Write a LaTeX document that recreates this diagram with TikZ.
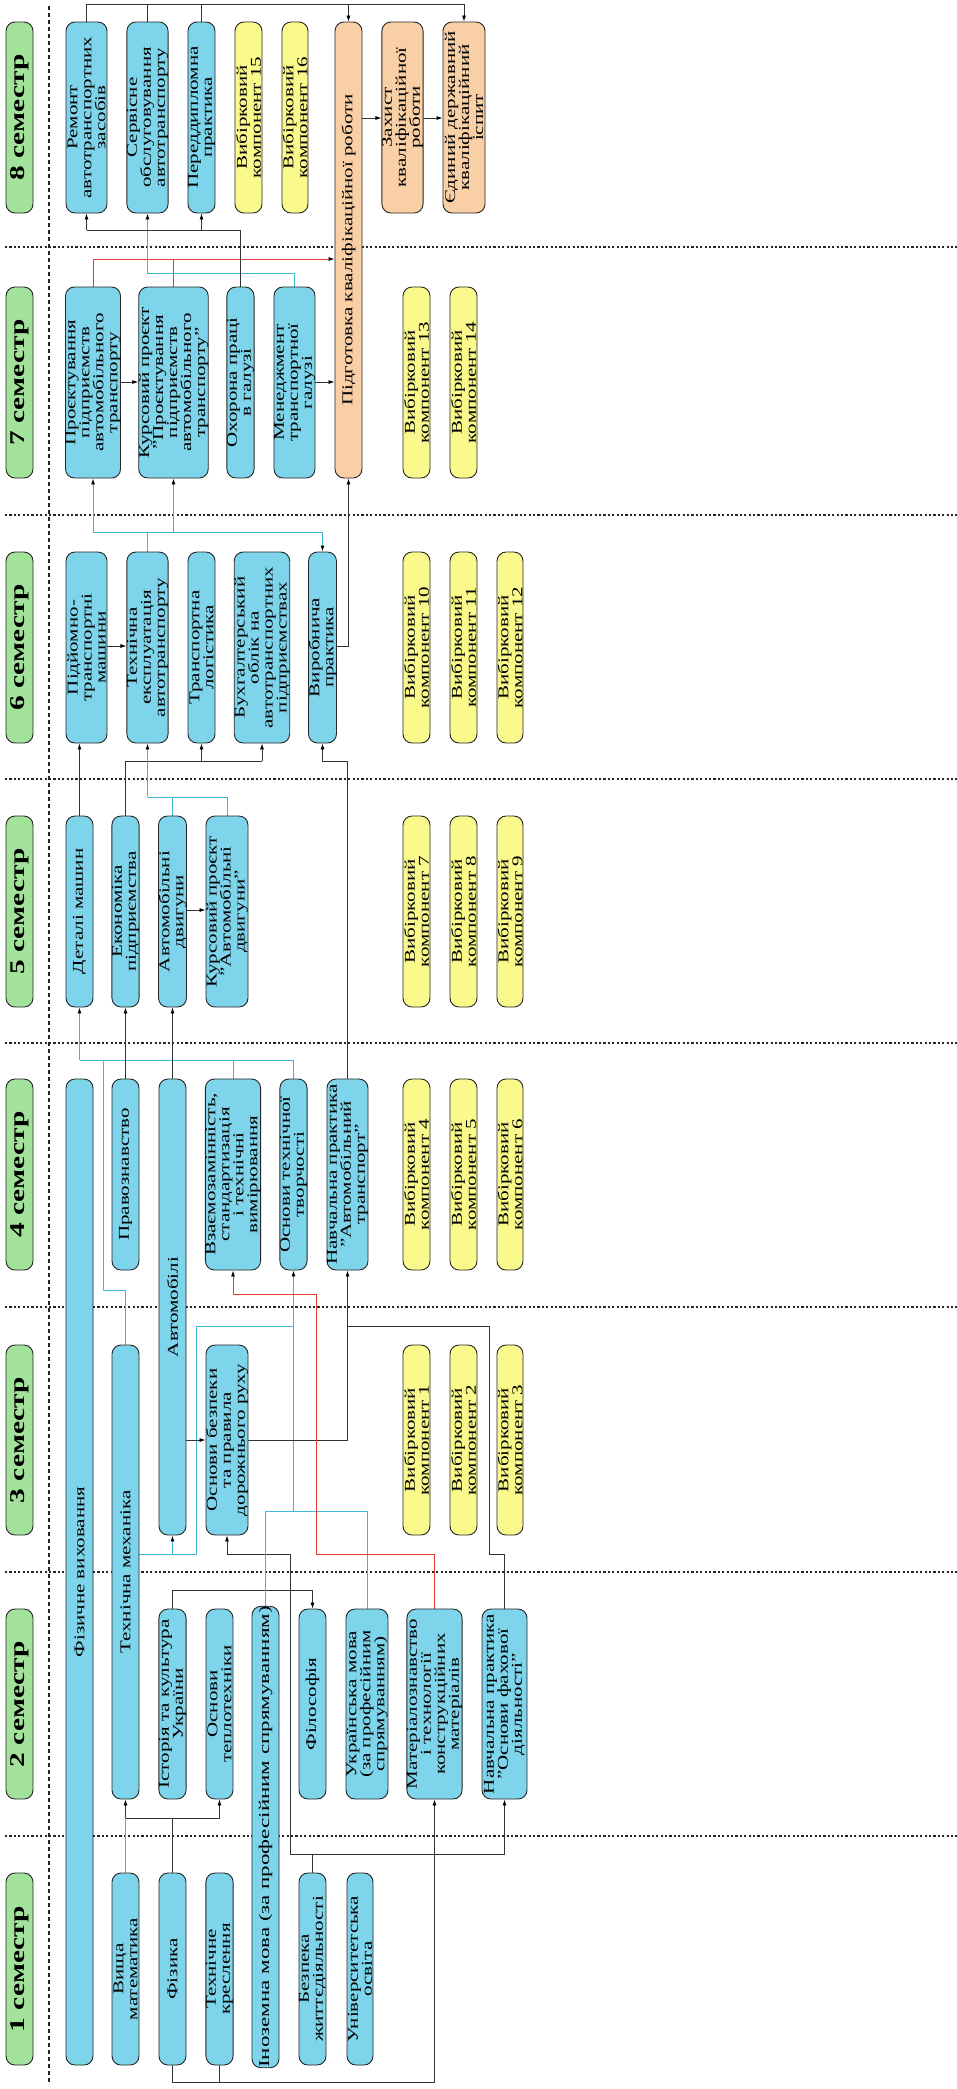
\documentclass[tikz,border=0pt]{standalone}
\usepackage{fontspec}
\setmainfont{Liberation Serif}[FakeStretch=1.4]
\newfontfamily\widefont{Liberation Serif}[FakeStretch=1.53]
\usetikzlibrary{arrows.meta}
\pgfdeclarelayer{back}
\pgfdeclarelayer{bg}
\pgfsetlayers{back,bg,main}
\definecolor{cblue}{HTML}{7ED4EB}
\definecolor{cyel}{HTML}{FAFA8C}
\definecolor{corg}{HTML}{F9CFA6}
\definecolor{cgrn}{HTML}{A3E29A}
\definecolor{ccyan}{HTML}{3DB8D4}
\definecolor{cred}{HTML}{E53935}
\tikzset{
 box/.style={rectangle, rounded corners=9pt, draw=black!85, line width=0.9pt, fill=cblue, rotate=90, inner sep=0pt, align=center, font=\fontsize{15}{14}\selectfont},
 ybox/.style={box, fill=cyel},
 obox/.style={box, fill=corg},
 gbox/.style={box, fill=cgrn, font=\fontsize{21}{24}\selectfont\bfseries},
 ln/.style={draw=black!80, line width=0.8pt},
 cy/.style={draw=ccyan, line width=0.9pt},
 rd/.style={draw=cred, line width=0.9pt},
 tip/.style={-{Latex[length=6pt,width=4pt,color=black]}},
 dotline/.style={line width=2.2pt, dash pattern=on 2.2pt off 2.2pt, black!85},
 dashline/.style={line width=1.6pt, dash pattern=on 4pt off 3pt, black!85},
}
\newcommand\bx[7]{\node[#6, minimum width={(#5)-(#4)}, minimum height={(#3)-(#2)}] (#1) at ({((#2)+(#3))/2},{((#4)+(#5))/2}) {#7};}
\begin{document}
\begin{tikzpicture}[x=1pt,y=-1pt]
\useasboundingbox (0,0) rectangle (957,2089);
\begin{pgfonlayer}{back}
\fill[white] (0,0) rectangle (957,2089);
\end{pgfonlayer}
% semester labels
\bx{s8}{6}{33}{22}{213}{gbox}{8 семестр}
\bx{s7}{6}{33}{287}{478}{gbox}{7 семестр}
\bx{s6}{6}{33}{552}{743}{gbox}{6 семестр}
\bx{s5}{6}{33}{816}{1007}{gbox}{5 семестр}
\bx{s4}{6}{33}{1079}{1270}{gbox}{4 семестр}
\bx{s3}{6}{33}{1345}{1535}{gbox}{3 семестр}
\bx{s2}{6}{33}{1609}{1799}{gbox}{2 семестр}
\bx{s1}{6}{33}{1873}{2065}{gbox}{1 семестр}
% semester 1
\bx{fv}{66}{93}{1079}{2065}{box}{Фізичне виховання}
\bx{vm}{112}{139}{1873}{2065}{box}{Вища\\математика}
\bx{fiz}{159}{186}{1873}{2065}{box}{Фізика}
\bx{tk}{206}{233}{1873}{2065}{box}{Технічне\\креслення}
\bx{im}{252}{279}{1609}{2065}{box}{\widefont Іноземна мова (за професійним спрямуванням)}
\bx{bzh}{299}{326}{1873}{2065}{box}{Безпека\\життєдіяльності}
\bx{uo}{347}{373}{1873}{2065}{box}{Університетська\\освіта}
% semester 2
\bx{tm}{112}{139}{1345}{1799}{box}{Технічна механіка}
\bx{ik}{159}{186}{1609}{1799}{box}{Історія та культура\\України}
\bx{ot}{206}{233}{1609}{1799}{box}{Основи\\теплотехніки}
\bx{fil}{299}{326}{1609}{1799}{box}{Філософія}
\bx{um}{346}{388}{1609}{1799}{box}{Українська мова\\(за професійним\\спрямуванням)}
\bx{mat}{407}{462}{1609}{1799}{box}{Матеріалознавство\\і технології\\конструкційних\\матеріалів}
\bx{npof}{482}{527}{1609}{1799}{box}{Навчальна практика\\"Основи фахової\\діяльності"}
% semester 3
\bx{avt}{159}{186}{1079}{1535}{box}{Автомобілі}
\bx{obr}{206}{248}{1345}{1535}{box}{Основи безпеки\\та правила\\дорожнього руху}
\bx{vk1}{403}{430}{1345}{1535}{ybox}{Вибірковий\\компонент 1}
\bx{vk2}{450}{477}{1345}{1535}{ybox}{Вибірковий\\компонент 2}
\bx{vk3}{497}{523}{1345}{1535}{ybox}{Вибірковий\\компонент 3}
% semester 4
\bx{prav}{112}{139}{1079}{1270}{box}{Правознавство}
\bx{vsv}{206}{260}{1079}{1270}{box}{Взаємозамінність,\\стандартизація\\і технічні\\вимірювання}
\bx{ott}{280}{307}{1079}{1270}{box}{Основи технічної\\творчості}
\bx{npat}{327}{368}{1079}{1270}{box}{Навчальна практика\\"Автомобільний\\транспорт"}
\bx{vk4}{403}{430}{1079}{1270}{ybox}{Вибірковий\\компонент 4}
\bx{vk5}{450}{477}{1079}{1270}{ybox}{Вибірковий\\компонент 5}
\bx{vk6}{497}{523}{1079}{1270}{ybox}{Вибірковий\\компонент 6}
% semester 5
\bx{dm}{66}{93}{816}{1007}{box}{Деталі машин}
\bx{ep}{112}{139}{816}{1007}{box}{Економіка\\підприємства}
\bx{ad}{159}{186}{816}{1007}{box}{Автомобільні\\двигуни}
\bx{kpad}{206}{248}{816}{1007}{box}{Курсовий проєкт\\"Автомобільні\\двигуни"}
\bx{vk7}{403}{430}{816}{1007}{ybox}{Вибірковий\\компонент 7}
\bx{vk8}{450}{477}{816}{1007}{ybox}{Вибірковий\\компонент 8}
\bx{vk9}{497}{523}{816}{1007}{ybox}{Вибірковий\\компонент 9}
% semester 6
\bx{ptm}{66}{107}{552}{743}{box}{Підйомно-\\транспортні\\машини}
\bx{tea}{127}{168}{552}{743}{box}{Технічна\\експлуатація\\автотранспорту}
\bx{tl}{188}{215}{552}{743}{box}{Транспортна\\логістика}
\bx{bo}{235}{289}{552}{743}{box}{Бухгалтерський\\облік на\\автотранспортних\\підприємствах}
\bx{vp}{309}{336}{552}{743}{box}{Виробнича\\практика}
\bx{vk10}{403}{430}{552}{743}{ybox}{Вибірковий\\компонент 10}
\bx{vk11}{450}{477}{552}{743}{ybox}{Вибірковий\\компонент 11}
\bx{vk12}{497}{523}{552}{743}{ybox}{Вибірковий\\компонент 12}
% semester 7
\bx{ppat}{66}{120}{287}{478}{box}{Проєктування\\підприємств\\автомобільного\\транспорту}
\bx{kpp}{140}{207}{287}{478}{box}{Курсовий проєкт\\"Проєктування\\підприємств\\автомобільного\\транспорту"}
\bx{op}{227}{254}{287}{478}{box}{Охорона праці\\в галузі}
\bx{mtg}{274}{315}{287}{478}{box}{Менеджмент\\транспортної\\галузі}
\bx{pkr}{335}{362}{22}{478}{obox}{Підготовка кваліфікаційної роботи}
\bx{vk13}{403}{430}{287}{478}{ybox}{Вибірковий\\компонент 13}
\bx{vk14}{450}{477}{287}{478}{ybox}{Вибірковий\\компонент 14}
% semester 8
\bx{ratz}{66}{107}{22}{213}{box}{Ремонт\\автотранспортних\\засобів}
\bx{soa}{127}{168}{22}{213}{box}{Сервісне\\обслуговування\\автотранспорту}
\bx{pp}{188}{215}{22}{213}{box}{Переддипломна\\практика}
\bx{vk15}{235}{262}{22}{213}{ybox}{Вибірковий\\компонент 15}
\bx{vk16}{282}{308}{22}{213}{ybox}{Вибірковий\\компонент 16}
\bx{zkr}{382}{423}{22}{213}{obox}{Захист\\кваліфікаційної\\роботи}
\bx{edki}{443}{485}{22}{213}{obox}{Єдиний державний\\кваліфікаційний\\іспит}
% bus levels
\coordinate (yA) at (0,1818);
\coordinate (yB) at (0,2082);
\coordinate (yC) at (0,1854);
\coordinate (yD) at (0,1554);
\coordinate (yE) at (0,1590);
\coordinate (yG) at (0,1326);
\coordinate (yH) at (0,1511);
\coordinate (yI) at (0,1440);
\coordinate (yL) at (0,1294);
\coordinate (yM) at (0,1060);
\coordinate (yN) at (0,1290);
\coordinate (yP) at (0,910);
\coordinate (yQ) at (0,761);
\coordinate (yR) at (0,797);
\coordinate (yS) at (0,646);
\coordinate (yT) at (0,532);
\coordinate (yU) at (0,382);
\coordinate (yV) at (0,259);
\coordinate (yW) at (0,273);
\coordinate (yX) at (0,230);
\coordinate (yY) at (0,4);
\coordinate (yZ) at (0,118);
\coordinate (xC) at (290,0);
\coordinate (xF) at (196,0);
\coordinate (xJ) at (489,0);
\coordinate (xK) at (316,0);
\coordinate (xO) at (103,0);
\begin{pgfonlayer}{bg}
\foreach \yy in {247,515,779,1043,1307,1572,1836} \draw[dotline] (5,\yy) -- (957,\yy);
\draw[dashline] (49,6) -- (49,2085);
% semester 1 -> 2
\draw[cy] (vm.east) -- (vm.east |- yA);
\draw[ln] (fiz.east) -- (fiz.east |- yA);
\draw[ln] (tm.west |- yA) -- (ot.west |- yA);
\draw[ln,tip] (tm.west |- yA) -- (tm.west);
\draw[ln,tip] (ot.west |- yA) -- (ot.west);
\draw[ln,tip] (fiz.west) -- (fiz.west |- yB) -- (mat.west |- yB) -- (mat.west);
\draw[ln] (tk.west) -- (tk.west |- yB);
\draw[ln] (bzh.east) -- (bzh.east |- yC);
\draw[ln] (xC |- yC) -- (npof.west |- yC);
\draw[ln,tip] (npof.west |- yC) -- (npof.west);
\draw[ln,tip] (xC |- yC) -- (xC |- yD) -- (obr.west |- yD) -- (obr.west);
\draw[ln,tip] (ik.east) -- (ik.east |- yE) -- (fil.east |- yE) -- (fil.east);
% semester 2/3 -> 3/4
\draw[cy] (tm.south |- yD) -- (xF |- yD) -- (xF |- yG) -- (ott.west |- yG);
\draw[cy,tip] (avt.west |- yD) -- (avt.west);
\draw[cy] (im.east) -- (im.east |- yH) -- (um.east |- yH) -- (um.east);
\draw[cy,tip] (ott.west |- yH) -- (ott.west);
\draw[ln,tip] (avt.south |- yI) -- (obr.north |- yI);
\draw[ln,tip] (obr.south |- yI) -- (npat.west |- yI) -- (npat.west);
\draw[ln] (npof.east) -- (npof.east |- yD) -- (xJ |- yD) -- (xJ |- yG) -- (npat.west |- yG);
\draw[rd,tip] (mat.east) -- (mat.east |- yD) -- (xK |- yD) -- (xK |- yL) -- (vsv.west |- yL) -- (vsv.west);
% semester 4 -> 5
\draw[cy] (tm.east) -- (tm.east |- yN) -- (xO |- yN) -- (xO |- yM);
\draw[cy] (dm.west |- yM) -- (ott.east |- yM);
\draw[cy,tip] (dm.west |- yM) -- (dm.west);
\draw[cy] (vsv.east) -- (vsv.east |- yM);
\draw[cy] (ott.east) -- (ott.east |- yM);
\draw[ln,tip] (prav.east) -- (ep.west);
\draw[ln,tip] (avt.east) -- (ad.west);
\draw[ln,tip] (ad.south |- yP) -- (kpad.north |- yP);
% semester 5 -> 6
\draw[ln,tip] (npat.east) -- (npat.east |- yQ) -- (vp.west |- yQ) -- (vp.west);
\draw[ln,tip] (dm.east) -- (dm.east |- ptm.west);
\draw[ln] (ep.east) -- (ep.east |- yQ) -- (bo.west |- yQ);
\draw[ln,tip] (tl.west |- yQ) -- (tl.west);
\draw[ln,tip] (bo.west |- yQ) -- (bo.west);
\draw[cy] (ad.east) -- (ad.east |- yR);
\draw[cy] (tea.west |- yR) -- (kpad.east |- yR) -- (kpad.east);
\draw[cy,tip] (tea.west |- yR) -- (tea.west);
\draw[ln,tip] (ptm.south |- yS) -- (tea.north |- yS);
\draw[ln,tip] (vp.south |- yS) -- (pkr.west |- yS) -- (pkr.west);
% semester 6 -> 7
\draw[cy] (tea.east) -- (tea.east |- yT);
\draw[cy] (ppat.west |- yT) -- (vp.east |- yT);
\draw[cy,tip] (ppat.west |- yT) -- (ppat.west);
\draw[cy,tip] (kpp.west |- yT) -- (kpp.west);
\draw[cy,tip] (vp.east |- yT) -- (vp.east);
\draw[ln,tip] (ppat.south |- yU) -- (kpp.north |- yU);
\draw[ln,tip] (mtg.south |- yU) -- (pkr.north |- yU);
% semester 7 -> 8
\draw[rd,tip] (ppat.east) -- (ppat.east |- yV) -- (pkr.north |- yV);
\draw[rd] (kpp.east) -- (kpp.east |- yV);
\draw[cy,tip] (mtg.east) -- (mtg.east |- yW) -- (soa.west |- yW) -- (soa.west);
\draw[ln] (op.east) -- (op.east |- yX) -- (ratz.west |- yX);
\draw[ln,tip] (ratz.west |- yX) -- (ratz.west);
\draw[ln,tip] (pp.west |- yX) -- (pp.west);
\draw[ln] (ratz.east) -- (ratz.east |- yY) -- (edki.east |- yY);
\draw[ln] (soa.east) -- (soa.east |- yY);
\draw[ln] (pp.east) -- (pp.east |- yY);
\draw[ln,tip] (pkr.east |- yY) -- (pkr.east);
\draw[ln,tip] (edki.east |- yY) -- (edki.east);
\draw[ln,tip] (pkr.south |- yZ) -- (zkr.north |- yZ);
\draw[ln,tip] (zkr.south |- yZ) -- (edki.north |- yZ);
\end{pgfonlayer}
\end{tikzpicture}
\end{document}
